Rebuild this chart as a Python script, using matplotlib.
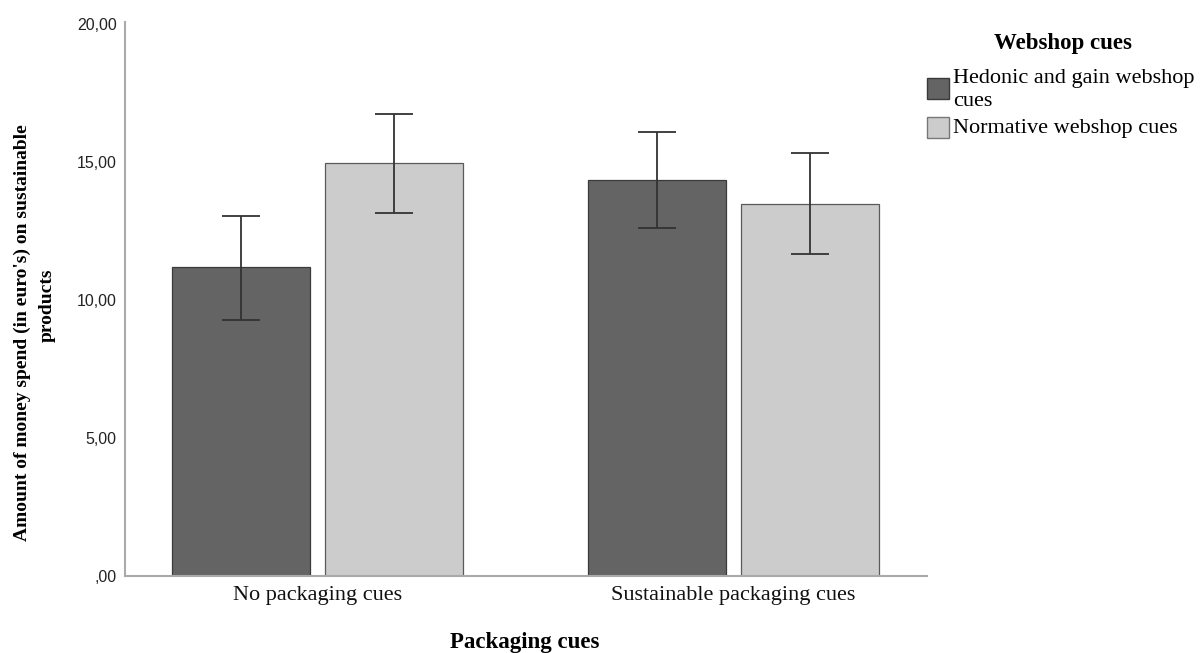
import numpy as np
import matplotlib
matplotlib.use("Agg")
import matplotlib.pyplot as plt
from matplotlib.patches import Rectangle

# data
categories = ["No packaging cues", "Sustainable packaging cues"]
series_names = ["Hedonic and gain webshop\ncues", "Normative webshop cues"]
hedonic_mean = [11.20, 14.35]
hedonic_low = [9.28, 12.61]
hedonic_high = [13.05, 16.10]
normative_mean = [14.96, 13.48]
normative_low = [13.15, 11.67]
normative_high = [16.74, 15.34]
yticks = [0, 5, 10, 15, 20]
yticklabels = [",00", "5,00", "10,00", "15,00", "20,00"]

serif = "Liberation Serif"
sans = "Liberation Sans"
dark = "#646464"
light = "#cccccc"
W, H = 1203, 653

fig = plt.figure(figsize=(12.03, 6.53), dpi=100)
ax = fig.add_axes([0.1039, 0.1179, 0.6667, 0.8484])

x = np.arange(len(categories))
off = 0.184
w = 0.332

ax.bar(x - off, hedonic_mean, width=w, color=dark, edgecolor="#3a3a3a", linewidth=0.9, zorder=2)
ax.bar(x + off, normative_mean, width=w, color=light, edgecolor="#5a5a5a", linewidth=0.9, zorder=2)

hm = np.array(hedonic_mean)
nm = np.array(normative_mean)
ax.errorbar(x - off, hm, yerr=[hm - np.array(hedonic_low), np.array(hedonic_high) - hm],
            fmt="none", ecolor="#333333", elinewidth=1.3, capsize=14, capthick=1.3, zorder=3)
ax.errorbar(x + off, nm, yerr=[nm - np.array(normative_low), np.array(normative_high) - nm],
            fmt="none", ecolor="#333333", elinewidth=1.3, capsize=14, capthick=1.3, zorder=3)

ax.set_xlim(-0.463, 1.465)
ax.set_ylim(0, 20.08)
ax.set_yticks(yticks)
ax.set_yticklabels(yticklabels, fontfamily=sans, fontsize=11.5, color="#222222")
ax.set_xticks(x)
ax.set_xticklabels(categories, fontfamily=serif, fontsize=16, color="#111111")
ax.tick_params(axis="both", length=0)
ax.tick_params(axis="y", pad=6)
ax.tick_params(axis="x", pad=7)

for s in ["top", "right"]:
    ax.spines[s].set_visible(False)
for s in ["left", "bottom"]:
    ax.spines[s].set_color("#aaaaaa")
    ax.spines[s].set_linewidth(1.5)

# axis titles
fig.text(0.4364, 1 - 632 / H, "Packaging cues", ha="center", va="top",
         fontfamily=serif, fontsize=16.5, fontweight="bold")
fig.text(22 / W, 1 - 333 / H, "Amount of money spend (in euro's) on sustainable",
         rotation=90, ha="center", va="center", fontfamily=serif, fontsize=14, fontweight="bold")
fig.text(47 / W, 1 - 305 / H, "products",
         rotation=90, ha="center", va="center", fontfamily=serif, fontsize=14, fontweight="bold")

# legend, laid out by hand
fig.text(1063 / W, 1 - 43 / H, "Webshop cues", ha="center", va="center",
         fontfamily=serif, fontsize=16.5, fontweight="bold")
fig.add_artist(Rectangle((927 / W, 1 - 99 / H), 22 / W, 21 / H, transform=fig.transFigure,
                         facecolor=dark, edgecolor="#3a3a3a", linewidth=1.0))
fig.add_artist(Rectangle((927 / W, 1 - 138 / H), 22 / W, 21 / H, transform=fig.transFigure,
                         facecolor=light, edgecolor="#777777", linewidth=1.0))
first, second = series_names[0].split("\n")
fig.text(953 / W, 1 - 79 / H, first, ha="left", va="center", fontfamily=serif, fontsize=16)
fig.text(953 / W, 1 - 101 / H, second, ha="left", va="center", fontfamily=serif, fontsize=16)
fig.text(953 / W, 1 - 129 / H, series_names[1], ha="left", va="center", fontfamily=serif, fontsize=16)

fig.savefig("out.png", dpi=100)
